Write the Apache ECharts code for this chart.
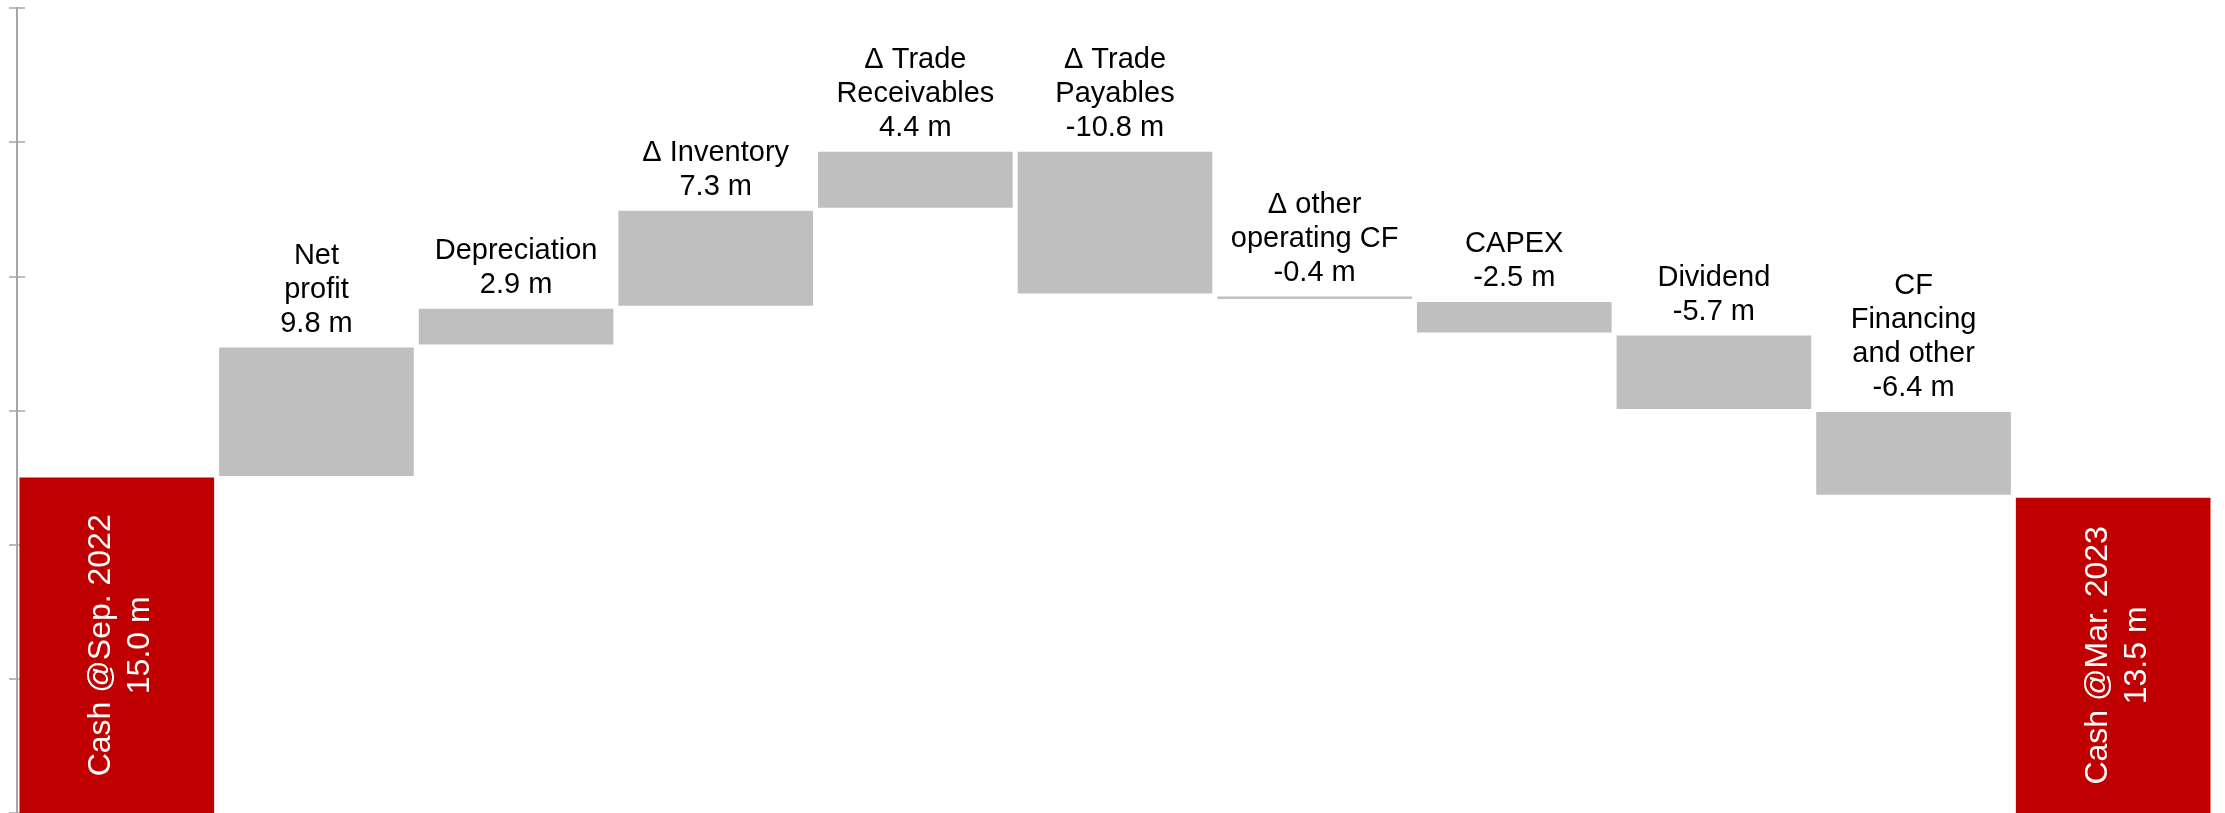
<!DOCTYPE html>
<html>
<head>
<meta charset="utf-8">
<script src="https://cdn.jsdelivr.net/npm/echarts@6/dist/echarts.min.js"></script>
<style>
html,body{margin:0;padding:0;background:#fff;}
#chart{width:2225px;height:813px;}
</style>
</head>
<body>
<div id="chart"></div>
<script>
// ---- data ----
const categories = ['Cash @Sep. 2022', 'Net profit', 'Depreciation', 'Δ Inventory', 'Δ Trade Receivables',
  'Δ Trade Payables', 'Δ other operating CF', 'CAPEX', 'Dividend', 'CF Financing and other', 'Cash @Mar. 2023'];
const labelNames = ['Cash @Sep. 2022', 'Net\nprofit', 'Depreciation', 'Δ Inventory', 'Δ Trade\nReceivables',
  'Δ Trade\nPayables', 'Δ other\noperating CF', 'CAPEX', 'Dividend', 'CF\nFinancing\nand other', 'Cash @Mar. 2023'];
const values = [15.0, 9.8, 2.9, 7.3, 4.4, -10.8, -0.4, -2.5, -5.7, -6.4, 13.5];
const isTotal = [true, false, false, false, false, false, false, false, false, false, true];
const yTicks = { min: -10, max: 50, interval: 10 };

// ---- build waterfall ranges ----
const seriesData = [];
let running = 0;
values.forEach((v, i) => {
  let lo, hi;
  if (isTotal[i]) { lo = 0; hi = v; running = v; }
  else { const start = running; running = running + v; lo = Math.min(start, running); hi = Math.max(start, running); }
  seriesData.push([i, lo, hi, v, isTotal[i] ? 1 : 0]);
});

const FONT = '"Liberation Sans", Arial, sans-serif';
const chart = echarts.init(document.getElementById('chart'), null, { renderer: 'canvas' });

function renderItem(params, api) {
  const i = api.value(0), lo = api.value(1), hi = api.value(2), v = api.value(3), total = api.value(4) === 1;
  const cs = params.coordSys;
  const top = api.coord([i, hi]);
  const bot = api.coord([i, lo]);
  const band = api.size([1, 0])[0];
  const w = band * 0.975;
  let y1, y0;
  if (total) { y1 = top[1]; y0 = cs.y + cs.height; }
  else {
    y1 = top[1] + 1.5; y0 = bot[1] - 1.5;
    if (y0 - y1 < 1.5) { const m = (top[1] + bot[1]) / 2; y1 = m - 0.75; y0 = m + 0.75; }
  }
  const text = labelNames[i] + '\n' + v.toFixed(1) + ' m';
  if (total) {
    return {
      type: 'rect',
      shape: { x: top[0] - w / 2, y: y1, width: w, height: y0 - y1 },
      style: { fill: '#C00000' },
      textContent: { style: { text: text, fill: '#fff', font: '32px ' + FONT, align: 'center', verticalAlign: 'middle', lineHeight: 39 } },
      textConfig: { position: 'inside', rotation: Math.PI / 2, offset: [0, 4] }
    };
  }
  return {
    type: 'rect',
    shape: { x: top[0] - w / 2, y: y1, width: w, height: y0 - y1 },
    style: { fill: '#BFBFBF' },
    textContent: { style: { text: text, fill: '#000', font: '29px ' + FONT, align: 'center', lineHeight: 34 } },
    textConfig: { position: 'top', distance: 7 }
  };
}

const axisCommon = {
  type: 'value', min: yTicks.min, max: yTicks.max, interval: yTicks.interval,
  position: 'left',
  axisLabel: { show: false }, splitLine: { show: false },
  axisLine: { show: true, lineStyle: { color: '#A6A6A6', width: 2 } }
};

chart.setOption({
  animation: false,
  backgroundColor: '#fff',
  grid: { left: 17, right: 12, top: 8, bottom: -2, containLabel: false },
  xAxis: { type: 'category', data: categories, show: false },
  yAxis: [
    Object.assign({}, axisCommon, { axisTick: { show: true, inside: false, length: 8, lineStyle: { color: '#A6A6A6', width: 1.5 } } }),
    Object.assign({}, axisCommon, { axisTick: { show: true, inside: true, length: 8, lineStyle: { color: '#A6A6A6', width: 1.5 } } })
  ],
  series: [{
    type: 'custom',
    renderItem: renderItem,
    encode: { x: 0, y: [1, 2] },
    data: seriesData,
    clip: false
  }]
});
</script>
</body>
</html>
